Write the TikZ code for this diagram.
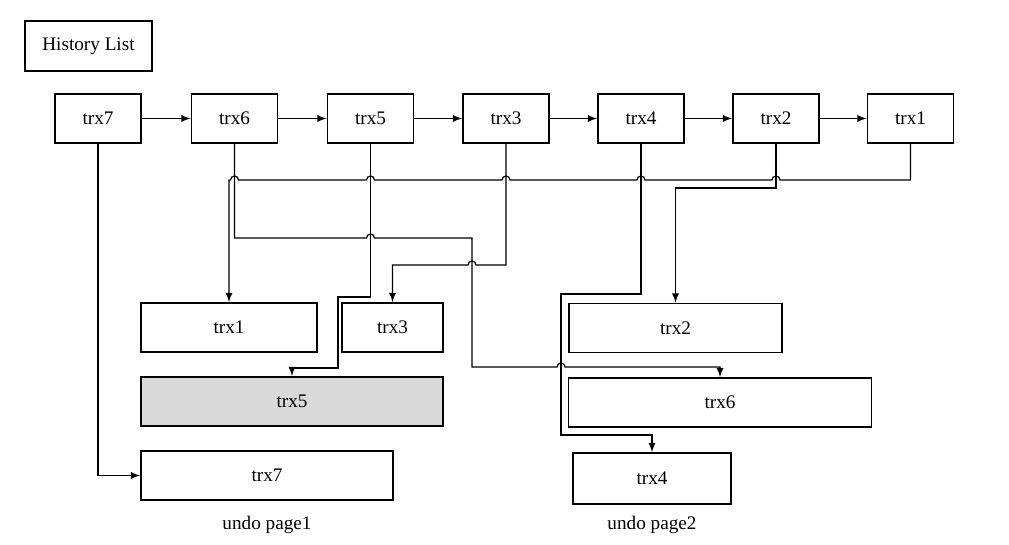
\documentclass[tikz,border=0pt]{standalone}
\usepackage{fontspec}
\setmainfont{Liberation Serif}
\usetikzlibrary{arrows,positioning}

% hop over a vertical line, going left or right
\newcommand{\hopl}[2]{-- ({#1+4},#2) arc[start angle=0,end angle=180,radius=2pt]}
\newcommand{\hopr}[2]{-- ({#1-4},#2) arc[start angle=180,end angle=0,radius=2pt]}

\begin{document}
\begin{tikzpicture}[x=0.5pt,y=-0.5pt,
  font=\fontsize{9.6pt}{11pt}\selectfont,
  box/.style={draw, line width=0.9pt, inner sep=0pt, minimum height=24.5pt},
  trx/.style={box, minimum width=43pt},
  link/.style={line width=0.6pt, -latex}]
  \useasboundingbox (0,0) rectangle (1009,545);
  % draw title
  \node[box, minimum width=63.5pt, minimum height=25pt] (hist) at (88.5,46) {History List};
  % draw history list
  \node[trx] (t7) at (98,118.5)  {trx7};
  \node[trx] (t6) at (234.5,118.5) {trx6};
  \node[trx] (t5) at (370.5,118.5) {trx5};
  \node[trx] (t3) at (506,118.5) {trx3};
  \node[trx] (t4) at (641,118.5) {trx4};
  \node[trx] (t2) at (776,118.5) {trx2};
  \node[trx] (t1) at (910.5,118.5) {trx1};
  \foreach \a/\b in {t7/t6,t6/t5,t5/t3,t3/t4,t4/t2,t2/t1}
    \draw[link] (\a) -- (\b);
  % draw undo page1
  \node[box, minimum width=88pt]  (u1) at (229,327.5) {trx1};
  \node[box, minimum width=50.5pt] (u3) at (392.5,327.5) {trx3};
  \node[box, minimum width=151pt, fill=gray!30] (u5) at (292,401.5) {trx5};
  \node[box, minimum width=126pt] (u7) at (267,475.5) {trx7};
  \node (p1) at (267,525) {undo page1};
  % draw undo page2
  \node[box, minimum width=106.5pt] (u2) at (675.5,328) {trx2};
  \node[box, minimum width=151.5pt] (u6) at (720,402.5) {trx6};
  \node[box, minimum width=79pt, minimum height=25.5pt] (u4) at (652,478.5) {trx4};
  \node (p2) at (652,525) {undo page2};
  % draw links
  \draw[link] (t7.south) |- (u7.west);
  \draw[link] (t1.south) -- (910.5,180) \hopl{776}{180} \hopl{641}{180} \hopl{506}{180}
    \hopl{370.5}{180} \hopl{234.5}{180} -- (u1.north |- 0,180) -- (u1.north);
  \draw[link] (t2.south) -- (776,188) -- (u2.north |- 0,188) -- (u2.north);
  \draw[link] (t6.south) -- (234.5,238) \hopr{370.5}{238} -- (472,238) -- (472,367)
    \hopr{561}{367} -- (u6.north |- 0,367) -- (u6.north);
  \draw[link] (t3.south) -- (506,265) \hopl{472}{265} -- (u3.north |- 0,265) -- (u3.north);
  \draw[link] (t5.south) -- (370.5,297) -- (338,297) -- (338,368) -- (u5.north |- 0,368) -- (u5.north);
  \draw[link] (t4.south) -- (641,294) -- (561,294) -- (561,435) -- (u4.north |- 0,435) -- (u4.north);
\end{tikzpicture}
\end{document}
